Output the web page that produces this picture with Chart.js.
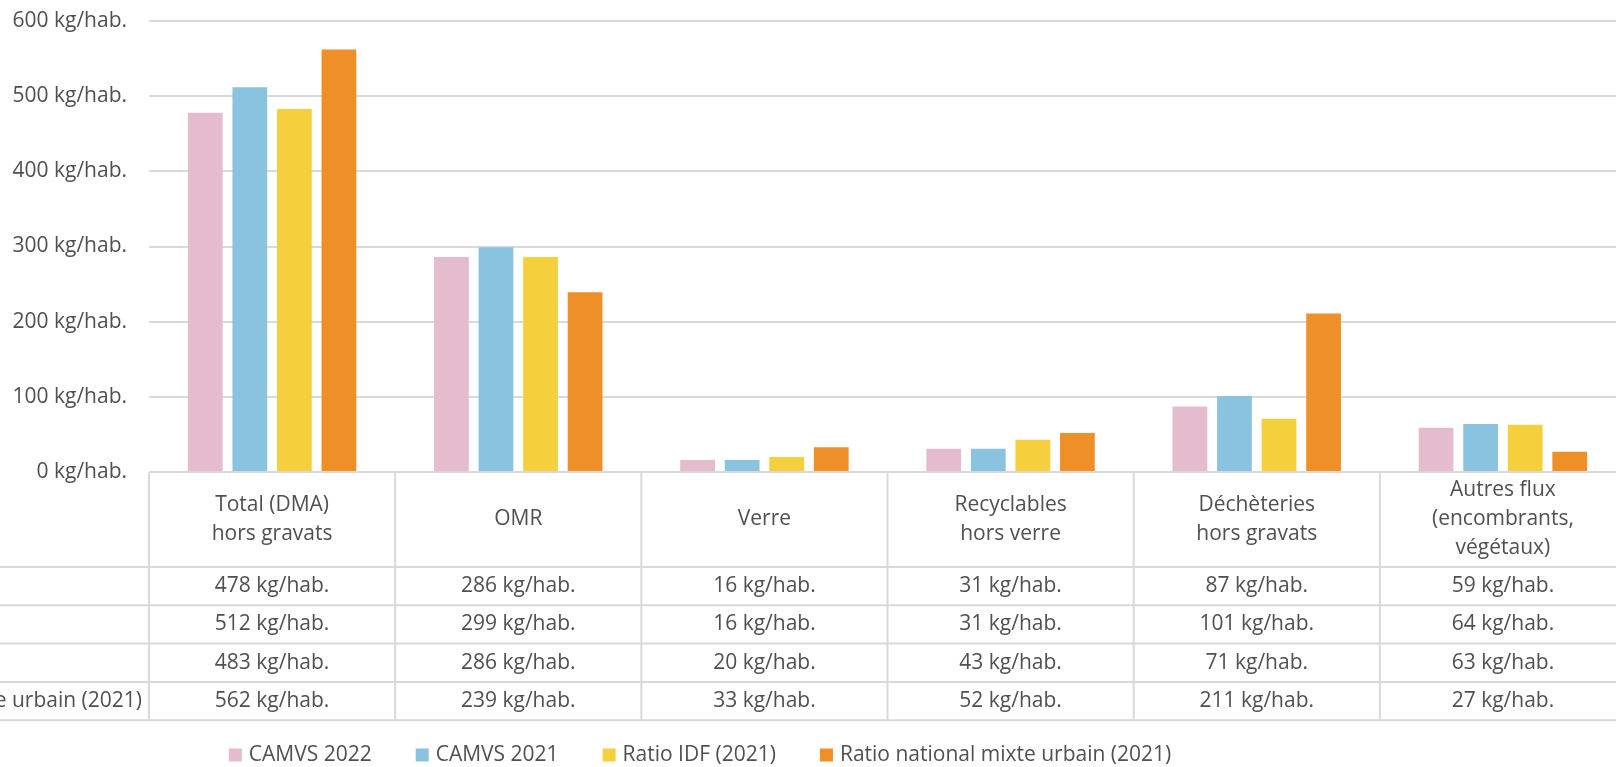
<!DOCTYPE html>
<html>
<head>
<meta charset="utf-8">
<script src="https://cdn.jsdelivr.net/npm/chart.js@4"></script>
<style>
  html, body { margin: 0; padding: 0; background: #fff; overflow: hidden; }
  #wrap { position: relative; width: 1616px; height: 767px; overflow: hidden; }
  canvas { position: absolute; left: 0; top: 0; }
</style>
</head>
<body>
<div id="wrap"><canvas id="chart" width="1640" height="767"></canvas></div>
<script>
const categories = [
  ['Total (DMA)', 'hors gravats'],
  ['OMR'],
  ['Verre'],
  ['Recyclables', 'hors verre'],
  ['Déchèteries', 'hors gravats'],
  ['Autres flux', '(encombrants,', 'végétaux)']
];
const seriesNames = ['CAMVS 2022', 'CAMVS 2021', 'Ratio IDF (2021)', 'Ratio national mixte urbain (2021)'];
const camvs2022 = [478, 286, 16, 31, 87, 59];
const camvs2021 = [512, 299, 16, 31, 101, 64];
const ratioIdf = [483, 286, 20, 43, 71, 63];
const ratioNational = [562, 239, 33, 52, 211, 27];
const yTicks = [0, 100, 200, 300, 400, 500, 600];
const unit = ' kg/hab.';

const colors = ['#E5BBCE', '#8AC3E0', '#F6D03C', '#EE9027'];
const textColor = '#505050';
const lineColor = '#D9D9D9';
const fontFamily = '"Open Sans", "Noto Sans", sans-serif';
const fontSize = 21;

const seriesValues = [camvs2022, camvs2021, ratioIdf, ratioNational];

// data table + legend drawn under the plot, using the x scale for columns
const tablePlugin = {
  id: 'dataTable',
  afterDraw(chart) {
    const ctx = chart.ctx;
    const area = chart.chartArea;
    const x = chart.scales.x;
    const n = categories.length;
    const colW = (area.right - area.left) / n;
    const top = area.bottom;
    const headerH = 95;
    const rowH = 38.3;
    const bottom = top + headerH + rowH * seriesValues.length;

    ctx.save();
    ctx.strokeStyle = lineColor;
    ctx.lineWidth = 2;
    ctx.beginPath();
    // header top line
    ctx.moveTo(area.left, top); ctx.lineTo(area.right + 20, top);
    // row lines (extend into the row label column)
    for (let r = 0; r <= seriesValues.length; r++) {
      const y = top + headerH + r * rowH;
      ctx.moveTo(-10, y); ctx.lineTo(area.right + 20, y);
    }
    // column lines
    for (let i = 0; i <= n; i++) {
      const xx = area.left + i * colW;
      ctx.moveTo(xx, top); ctx.lineTo(xx, bottom);
    }
    ctx.stroke();

    ctx.fillStyle = textColor;
    ctx.font = fontSize + 'px ' + fontFamily;
    ctx.textAlign = 'center';
    ctx.textBaseline = 'middle';
    const lineH = 29;
    categories.forEach((lines, i) => {
      const cx = x.getPixelForValue(i);
      const cy = top + headerH / 2;
      const y0 = cy - (lines.length - 1) * lineH / 2;
      lines.forEach((l, k) => ctx.fillText(l, cx, y0 + k * lineH));
    });
    seriesValues.forEach((vals, r) => {
      const cy = top + headerH + r * rowH + rowH / 2;
      vals.forEach((v, i) => ctx.fillText(v + unit, x.getPixelForValue(i), cy));
    });

    // row labels, left aligned in a column that is cut at the page edge
    const maxW = Math.max(...seriesNames.map(s => ctx.measureText(s).width));
    const labelX = area.left - 7 - maxW;
    ctx.textAlign = 'left';
    seriesNames.forEach((s, r) => {
      const cy = top + headerH + r * rowH + rowH / 2;
      ctx.fillText(s, labelX, cy);
      ctx.fillStyle = colors[r];
      ctx.fillRect(labelX - 20, cy - 6.5, 13, 13);
      ctx.fillStyle = textColor;
    });

    // legend
    const box = 13, gapText = 7, gapItem = 44;
    const widths = seriesNames.map(s => box + gapText + ctx.measureText(s).width);
    const total = widths.reduce((a, b) => a + b, 0) + gapItem * (widths.length - 1);
    let lx = 700 - total / 2;
    const ly = 755;
    seriesNames.forEach((s, i) => {
      ctx.fillStyle = colors[i];
      ctx.fillRect(lx, ly - box / 2, box, box);
      ctx.fillStyle = textColor;
      ctx.fillText(s, lx + box + gapText, ly);
      lx += widths[i] + gapItem;
    });
    ctx.restore();
  }
};

new Chart(document.getElementById('chart'), {
  type: 'bar',
  data: {
    labels: categories.map(c => c.join(' ')),
    datasets: seriesNames.map((name, i) => ({
      label: name,
      data: seriesValues[i],
      backgroundColor: colors[i],
      borderWidth: 0,
      categoryPercentage: 0.724,
      barPercentage: 0.78
    }))
  },
  options: {
    responsive: false,
    animation: false,
    devicePixelRatio: 1,
    layout: { padding: { top: 21, right: 14, bottom: 295, left: 0 } },
    plugins: {
      legend: { display: false },
      tooltip: { enabled: false }
    },
    scales: {
      x: { display: false },
      y: {
        min: yTicks[0],
        max: yTicks[yTicks.length - 1],
        afterFit: s => { s.width = 149; s.paddingTop = 0; s.paddingBottom = 0; },
        afterBuildTicks: s => { s.ticks = yTicks.map(v => ({ value: v })); },
        border: { display: false },
        grid: { color: lineColor, lineWidth: 2, drawTicks: false },
        ticks: {
          padding: 22,
          color: textColor,
          font: { family: fontFamily, size: fontSize },
          callback: v => v + unit
        }
      }
    }
  },
  plugins: [tablePlugin]
});
</script>
</body>
</html>
